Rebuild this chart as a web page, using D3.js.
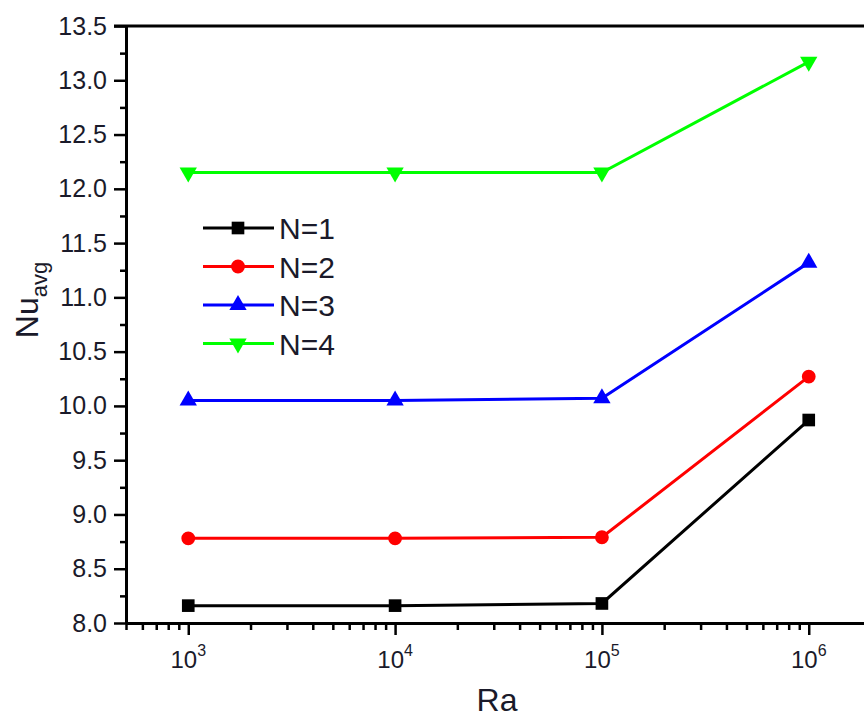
<!DOCTYPE html>
<html>
<head>
<meta charset="utf-8">
<script src="https://cdn.jsdelivr.net/npm/d3@7"></script>
<style>
  body { margin: 0; background: #fff; }
  text { font-family: Arial, "Liberation Sans", sans-serif; fill: #1a1a2a; }
</style>
</head>
<body>
<svg id="chart" width="864" height="718"></svg>
<script>
// data
var raValues = [1e3, 1e4, 1e5, 1e6];
var seriesNames = ['N=1', 'N=2', 'N=3', 'N=4'];
var nuN1 = [8.16, 8.16, 8.18, 9.87];
var nuN2 = [8.78, 8.78, 8.79, 10.27];
var nuN3 = [10.05, 10.05, 10.07, 11.32];
var nuN4 = [12.15, 12.15, 12.15, 13.17];
var seriesColors = ['#000000', '#ff0000', '#0000ff', '#00ff00'];
var yTicks = [8.0, 8.5, 9.0, 9.5, 10.0, 10.5, 11.0, 11.5, 12.0, 12.5, 13.0, 13.5];
var xTickExps = [3, 4, 5, 6];

var seriesValues = [nuN1, nuN2, nuN3, nuN4];

var svg = d3.select("#chart");
var plotLeft = 126, plotTop = 26, plotRight = 871, plotBottom = 623;

var x = d3.scaleLog().domain([500, 2e6]).range([plotLeft, plotRight]);
var y = d3.scaleLinear().domain([8, 13.5]).range([plotBottom, plotTop]);

// frame top line (right side is cut off in the original)
svg.append("line")
  .attr("x1", plotLeft - 12).attr("x2", 864)
  .attr("y1", plotTop).attr("y2", plotTop)
  .attr("stroke", "#000").attr("stroke-width", 3);

// y axis: major + minor ticks
var yMinor = d3.range(8.25, 13.5, 0.5);
svg.append("g")
  .attr("transform", "translate(" + plotLeft + ",0)")
  .call(d3.axisLeft(y).tickValues(yMinor).tickSize(6).tickFormat(""))
  .call(function(g) { g.select(".domain").remove(); })
  .selectAll("line").attr("stroke-width", 2.5);

var yAxis = svg.append("g")
  .attr("transform", "translate(" + plotLeft + ",0)")
  .call(d3.axisLeft(y).tickValues(yTicks).tickSize(12).tickSizeOuter(0).tickPadding(7)
        .tickFormat(d3.format(".1f")));
yAxis.select(".domain").attr("stroke-width", 3);
yAxis.selectAll("line").attr("stroke-width", 2.5);
yAxis.selectAll("text").style("font-size", "25px").attr("fill", "#1a1a2a");

// x axis: minor ticks 2..9 x 10^k
var xMinor = [];
[100, 1000, 10000, 100000, 1000000].forEach(function(b) {
  for (var k = 2; k <= 9; k++) {
    var v = b * k;
    if (v >= 500 && v <= 2e6) xMinor.push(v);
  }
});
svg.append("g")
  .attr("transform", "translate(0," + plotBottom + ")")
  .call(d3.axisBottom(x).tickValues(xMinor).tickSize(7).tickFormat(""))
  .call(function(g) { g.select(".domain").remove(); })
  .selectAll("line").attr("stroke-width", 2.5);

var xAxis = svg.append("g")
  .attr("transform", "translate(0," + plotBottom + ")")
  .call(d3.axisBottom(x).tickValues(raValues).tickSize(12).tickSizeOuter(0).tickFormat(""));
xAxis.select(".domain").attr("stroke-width", 3);
xAxis.selectAll("line").attr("stroke-width", 2.5);

// x tick labels as 10 with superscript
var xl = svg.append("g").selectAll("text")
  .data(xTickExps)
  .enter().append("text")
  .attr("x", function(d) { return x(Math.pow(10, d)); })
  .attr("y", 668)
  .attr("text-anchor", "middle")
  .style("font-size", "24px");
xl.append("tspan").text("10");
xl.append("tspan").attr("dy", -12).style("font-size", "16px").text(function(d) { return d; });

// axis titles
svg.append("text")
  .attr("x", 497).attr("y", 711)
  .attr("text-anchor", "middle")
  .style("font-size", "32px")
  .text("Ra");

var yt = svg.append("text")
  .attr("transform", "translate(38,300) rotate(-90)")
  .attr("text-anchor", "middle")
  .style("font-size", "32px");
yt.append("tspan").text("Nu");
yt.append("tspan").attr("dy", 9).style("font-size", "22px").text("avg");

// series
var symbolTypes = [d3.symbolSquare, d3.symbolCircle, d3.symbolTriangle, d3.symbolTriangle];
var symbolSizes = [160, 150, 130, 130];
var symbolRot = [0, 0, 0, 180];

var line = d3.line()
  .x(function(d, i) { return x(raValues[i]); })
  .y(function(d) { return y(d); });

seriesValues.forEach(function(vals, s) {
  svg.append("path")
    .datum(vals)
    .attr("d", line)
    .attr("fill", "none")
    .attr("stroke", seriesColors[s])
    .attr("stroke-width", 3);

  svg.append("g").selectAll("path")
    .data(vals)
    .enter().append("path")
    .attr("d", d3.symbol().type(symbolTypes[s]).size(symbolSizes[s]))
    .attr("transform", function(d, i) {
      return "translate(" + x(raValues[i]) + "," + y(d) + ") rotate(" + symbolRot[s] + ")";
    })
    .attr("fill", seriesColors[s]);
});

// legend
var legend = svg.append("g");
seriesNames.forEach(function(name, s) {
  var ly = 228 + s * 38.5;
  legend.append("line")
    .attr("x1", 203).attr("x2", 274)
    .attr("y1", ly).attr("y2", ly)
    .attr("stroke", seriesColors[s]).attr("stroke-width", 3);
  legend.append("path")
    .attr("d", d3.symbol().type(symbolTypes[s]).size(symbolSizes[s]))
    .attr("transform", "translate(238," + ly + ") rotate(" + symbolRot[s] + ")")
    .attr("fill", seriesColors[s]);
  legend.append("text")
    .attr("x", 279).attr("y", ly + 11)
    .style("font-size", "30px")
    .text(name);
});
</script>
</body>
</html>
